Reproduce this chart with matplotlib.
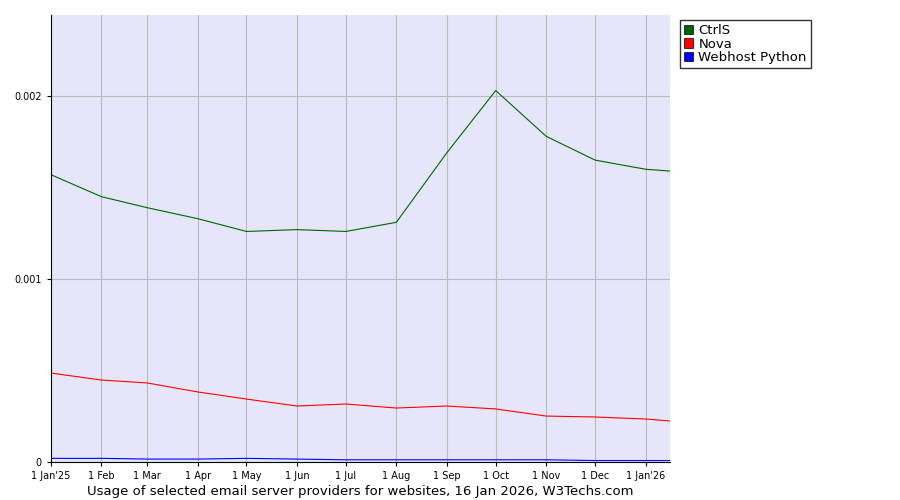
import numpy as np
import matplotlib.pyplot as plt
from matplotlib.patches import Patch

# days since 1 Jan 2025
days = [0, 31, 59, 90, 120, 151, 181, 212, 243, 273, 304, 334, 365, 380]
tick_days = days[:-1]
tick_labels = ["1 Jan'25", "1 Feb", "1 Mar", "1 Apr", "1 May", "1 Jun", "1 Jul",
               "1 Aug", "1 Sep", "1 Oct", "1 Nov", "1 Dec", "1 Jan'26"]

ctrls = [0.00157, 0.00145, 0.00139, 0.00133, 0.00126, 0.00127, 0.00126,
         0.00131, 0.00169, 0.00203, 0.00178, 0.00165, 0.00160, 0.00159]
nova = [0.000486, 0.000448, 0.000432, 0.000383, 0.000344, 0.000306, 0.000317,
        0.000295, 0.000306, 0.000290, 0.000251, 0.000246, 0.000235, 0.000224]
webhost = [0.000020, 0.000020, 0.000016, 0.000016, 0.000020, 0.000016, 0.000012,
           0.000012, 0.000012, 0.000012, 0.000012, 0.000008, 0.000008, 0.000008]

fig = plt.figure(figsize=(9, 5), dpi=100)
ax = fig.add_axes([51/900, 38/500, 619/900, 447/500])
ax.set_facecolor('#e6e6fa')

ax.plot(days, ctrls, color='#006400', lw=0.8)
ax.plot(days, nova, color='#ff0000', lw=0.8)
ax.plot(days, webhost, color='#0000ff', lw=0.8)

ax.set_xlim(0, 380)
ax.set_ylim(0, 0.002443)
ax.set_xticks(tick_days)
ax.set_xticklabels(tick_labels, fontsize=7)
ax.set_yticks([0, 0.001, 0.002])
ax.set_yticklabels(['0', '0.001', '0.002'], fontsize=7)
ax.tick_params(length=3)
ax.grid(True, color='#bbbbbb', lw=0.8)
ax.set_axisbelow(True)
for s in ['top', 'right']:
    ax.spines[s].set_visible(False)

ax.set_xlabel('Usage of selected email server providers for websites, 16 Jan 2026, W3Techs.com',
              fontsize=9.5, labelpad=3)

handles = [Patch(facecolor=c, edgecolor='black', lw=0.5) for c in ['#006400', '#ff0000', '#0000ff']]
fig.legend(handles, ['CtrlS', 'Nova', 'Webhost Python'], loc='upper left',
           bbox_to_anchor=(680/900, 1 - 20/500), fontsize=9.5, frameon=True,
           fancybox=False, edgecolor='black', handlelength=0.7, handleheight=0.7,
           handletextpad=0.4, labelspacing=0.05, borderpad=0.3, borderaxespad=0)

fig.savefig('out.png')
